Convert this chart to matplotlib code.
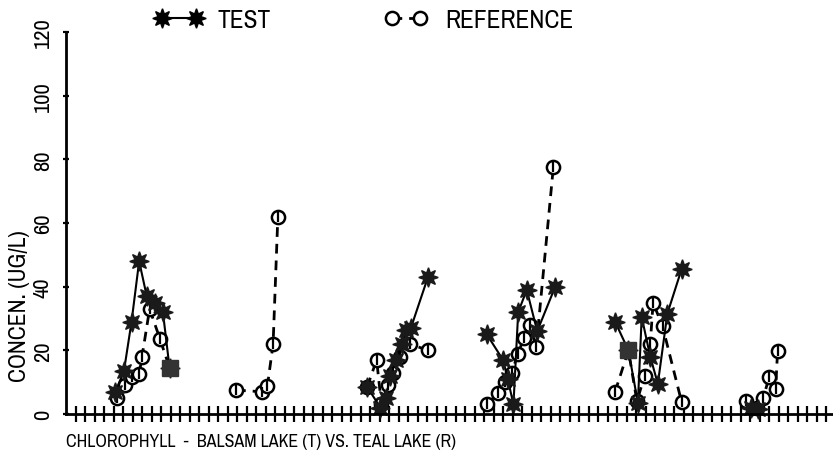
import matplotlib.pyplot as plt
from matplotlib import font_manager
from matplotlib.lines import Line2D

# pick a narrow face if the box has one, the plotter lettering is very condensed
names = sorted({f.name for f in font_manager.fontManager.ttflist})
narrow = [n for n in names if 'Narrow' in n or 'Condensed' in n]
plt.rcParams['font.family'] = narrow[:1] + ['Liberation Sans', 'DejaVu Sans']

# sampling runs (x in tick units), one list per lake-year group
test_x = [
    [5.2, 6.1, 6.9, 7.7, 8.5, 9.4, 10.2, 10.9],
    [31.7, 33.1, 33.7, 34.1, 34.7, 35.4, 35.8, 36.3, 38.1],
    [44.3, 46.0, 46.5, 47.1, 47.6, 48.5, 49.6, 51.5],
    [57.8, 59.2, 60.2, 60.6, 61.5, 62.3, 63.3, 64.8],
    [72.1, 72.8],
]
test_y = [
    [7, 13.5, 29, 48, 37, 35, 32, 14.5],
    [8.5, 2, 5, 12, 17, 22, 26.5, 27, 43],
    [25, 17, 11, 3, 32, 39, 26, 40],
    [29, 20, 3.5, 30.5, 18, 9.5, 31.5, 45.5],
    [2, 1.5],
]
ref_x = [
    [5.4, 6.2, 6.9, 7.7, 8.0, 8.8, 9.9, 10.9],
    [17.9, 20.6, 21.2, 21.8, 22.3],
    [31.7, 32.7, 33.2, 33.9, 34.4, 35.2, 36.2, 38.1],
    [44.3, 45.5, 46.2, 46.9, 47.6, 48.2, 48.8, 49.5, 51.3],
    [57.8, 59.2, 60.1, 60.9, 61.5, 61.8, 62.8, 64.8],
    [71.6, 72.7, 73.4, 74.0, 74.7, 74.9],
]
ref_y = [
    [5, 9, 11.5, 12.5, 18, 33, 23.5, 14.5],
    [7.5, 7, 8.8, 22, 62],
    [8.5, 17, 3, 9, 13, 18, 22, 20],
    [3, 6.5, 10, 13, 19, 24, 28, 21, 77.6],
    [7, 20, 4, 12, 22, 35, 27.5, 3.8],
    [4, 2, 5, 11.5, 8, 19.7],
]
# points where both lakes coincide (drawn as filled squares)
both_x = [10.9, 59.2]
both_y = [14.5, 20]

n_ticks = 80
y_ticks = [0, 20, 40, 60, 80, 100, 120]
x_title = 'CHLOROPHYLL  -  BALSAM LAKE (T) VS. TEAL LAKE (R)'
y_title = 'CONCEN. (UG/L)'

fig = plt.figure(figsize=(8.33, 4.56), dpi=100)
ax = fig.add_axes([66 / 833, 41 / 456, 767 / 833, 382 / 456])


def size_for(s, target_px, base=20):
    # font size that makes string s about target_px long
    t = fig.text(0, 0, s, fontsize=base)
    fig.canvas.draw()
    w = t.get_window_extent().width
    t.remove()
    return base * target_px / w


for xs, ys in zip(ref_x, ref_y):
    ax.plot(xs, ys, color='black', lw=2, dashes=(3.5, 2.5), clip_on=False)
    ax.plot(xs, ys, ls='none', marker='o', ms=9.5, mfc='white', mec='black',
            mew=1.8, clip_on=False)
    ax.plot(xs, ys, ls='none', marker='|', ms=7, mec='black', mew=1.6,
            clip_on=False)

for xs, ys in zip(test_x, test_y):
    ax.plot(xs, ys, color='black', lw=1.5, clip_on=False)
    ax.plot(xs, ys, ls='none', marker=(8, 1, 0), ms=14, color='#1a1a1a',
            clip_on=False)

ax.plot(both_x, both_y, ls='none', marker='s', ms=11, color='#333333',
        clip_on=False)

ax.set_xlim(0, 767 / 9.5)
ax.set_ylim(0, 120)
ax.set_xticks(range(1, n_ticks + 1))
ax.set_xticklabels([])
ax.set_yticks(y_ticks)
fs_tick = size_for('120', 31)
ax.set_yticklabels([str(v) for v in y_ticks], rotation=90, va='center',
                   fontsize=fs_tick)
ax.tick_params(axis='x', direction='inout', length=11, width=1.6)
ax.tick_params(axis='y', direction='inout', length=5, width=1.6, pad=7)
for side in ['top', 'right']:
    ax.spines[side].set_visible(False)
for side in ['left', 'bottom']:
    ax.spines[side].set_linewidth(2)

ax.set_ylabel(y_title, fontsize=size_for(y_title, 152))
ax.yaxis.set_label_coords(-36 / 767, 0.285)
ax.set_xlabel(x_title, fontsize=size_for(x_title, 392), loc='left',
              labelpad=5)

# legend: two separate entries placed like the plotter did
fs_leg = (size_for('TEST', 52) + size_for('REFERENCE', 132)) / 2
fpx = fs_leg * 100 / 72
h_test = Line2D([], [], color='black', lw=1.5, marker=(8, 1, 0), ms=14)
h_ref = Line2D([], [], color='black', lw=2, dashes=(3.5, 2.5), marker='o',
               ms=9.5, mfc='white', mec='black', mew=1.8)
for h, lab, x1, x2, xt in [(h_test, 'TEST', 162, 196, 218),
                           (h_ref, 'REFERENCE', 392, 420, 445)]:
    fig.legend([h], [lab], loc='center left',
               bbox_to_anchor=((x1 - 0.3 * fpx) / 833, 436 / 456),
               frameon=False, numpoints=2, fontsize=fs_leg,
               handlelength=(x2 - x1 + 0.6 * fpx) / fpx,
               handletextpad=(xt - x2 - 0.3 * fpx) / fpx,
               borderaxespad=0, borderpad=0)

fig.savefig('out.png', dpi=100)
